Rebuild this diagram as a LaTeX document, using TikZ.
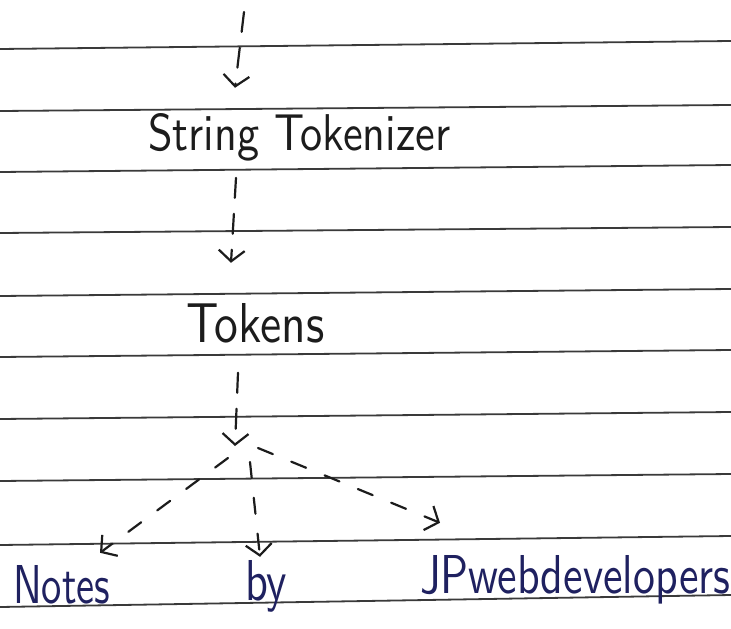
\documentclass[tikz,border=0pt]{standalone}
\usetikzlibrary{arrows.meta,calc}
\definecolor{ink}{HTML}{1C1C1C}
\definecolor{blueink}{HTML}{1F2160}
\definecolor{rule}{HTML}{3A3A3A}
% handwritten word, stretched to a given width and height above the baseline
\newcommand{\handword}[3]{\resizebox{#1}{#2}{\sffamily #3}}
\tikzset{
  word/.style={inner sep=0pt, anchor=base west, text=ink},
  blueword/.style={word, text=blueink},
  ruling/.style={draw=rule, line width=1.8pt},
  flow/.style={draw=ink, line width=2.2pt, line cap=round,
    dash pattern=on 20pt off 16pt,
    -{Straight Barb[length=11pt,width=26pt,line width=2.2pt]}},
  branch/.style={flow, dash pattern=on 16pt off 20pt},
}
\begin{document}
\begin{tikzpicture}[x=1pt, y=-1pt]
  \useasboundingbox[fill=white] (0,0) rectangle (731,629);

  % ruled notebook lines, slightly rising to the right
  \foreach \l/\r in {49/41, 111/105, 172/165, 233/227, 296/289,
                     357/350, 419/412, 481/474, 545/536, 607/595}
    \draw[ruling] (0,\l) -- (731,\r);

  % words
  \node[word] (st) at (148,150) {\handword{302pt}{37pt}{String Tokenizer}};
  \node[word] (tok) at (186,342) {\handword{138pt}{39pt}{Tokens}};
  \node[blueword] (notes) at (13,603) {\handword{97pt}{38pt}{Notes}};
  \node[blueword] (by) at (245,600) {\handword{42pt}{40pt}{by}};
  \node[blueword] (jp) at (420,593) {\handword{310pt}{38pt}{JPwebdevelopers}};

  % free ends of the flow
  \coordinate (start) at (244,12);
  \coordinate (fork) at (235,446);

  % main flow
  \draw[flow] (start) -- ($(st.north west)+(87,-25)$);
  \draw[flow] ($(st.south west)+(88,17)$) -- ($(tok.north west)+(45,-40)$);
  \draw[flow] ($(tok.south west)+(52,30)$) -- (fork);

  % three branches out of the fork
  \draw[branch] ($(fork)+(-7,12)$) -- ($(notes.north west)+(87,-12)$);
  \draw[branch] ($(fork)+(15,16)$) -- ($(by.north west)+(15,-3)$);
  \draw[branch] ($(fork)+(23,2)$) -- ($(jp.north west)+(20,-32)$);
\end{tikzpicture}
\end{document}
